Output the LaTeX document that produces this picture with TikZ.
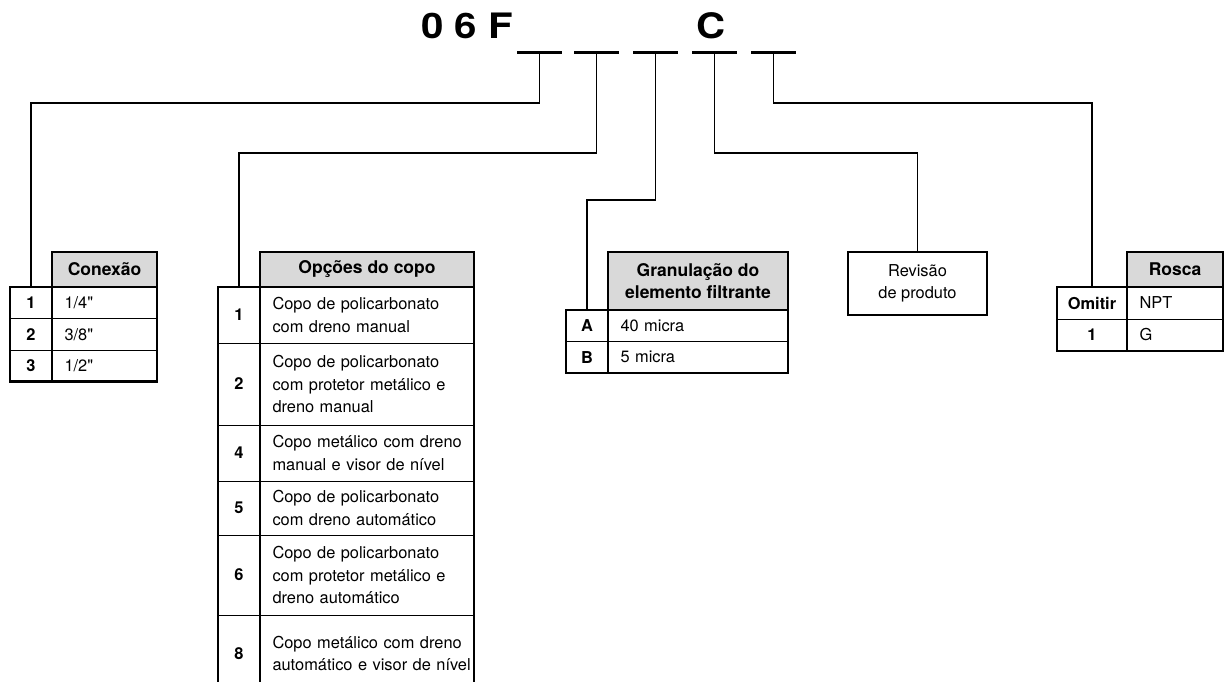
\documentclass[tikz,border=0pt]{standalone}
\usepackage{fontspec}
\setmainfont{TeX Gyre Heros}
\newfontfamily\codefamily{TeX Gyre Heros}[FakeStretch=1.15]
\usetikzlibrary{positioning,fit}
\definecolor{HeadGray}{HTML}{D9D9D9}
\newcommand\cellfont{\fontsize{16.4}{22.5}\selectfont}
\newcommand\headfont{\fontsize{17.5}{22.5}\selectfont\bfseries}
\newcommand\codefont{\fontsize{35}{40}\selectfont\codefamily\bfseries}
\newcommand\inch{\XeTeXglyph\XeTeXcharglyph"22\relax}

\begin{document}
\begin{tikzpicture}[x=1pt, y=-1pt, node distance=0pt,
  every node/.style={font=\cellfont, inner sep=0pt, outer sep=0pt},
  slot/.style={fill=black, minimum width=45pt, minimum height=3pt},
  link/.style={line width=1.1pt},
  cell/.style={draw, line width=0.9pt},
  numcell/.style={cell, minimum width=42pt, font=\cellfont\bfseries},
  valcell/.style={cell, inner xsep=12.5pt, align=left},
  headcell/.style={draw, line width=2.2pt, fill=HeadGray, font=\headfont, align=center},
  frame/.style={draw, line width=2.4pt, inner sep=0pt},
  bar/.style={line width=1.8pt}]
\useasboundingbox (0,0) rectangle (1225,681);

% order code
\node[anchor=base east, font=\codefont] (code) at (513,38) {0 6 F};
\node[anchor=base, font=\codefont] (revC) at (711,38) {C};
\foreach \i/\x in {1/539.5, 2/596.5, 3/655.5, 4/714.5, 5/773.5}
  \node[slot] (s\i) at (\x,52) {};

% connection size
\node[headcell, minimum width=105pt, minimum height=35pt] (conHead) at (104.5,269.5) {Conexão};
\node[numcell, anchor=north east, minimum height=31.5pt] (con1) at (conHead.south west) {1};
\node[valcell, right=of con1, text width=80pt, minimum height=31.5pt] (conVal1) {1/4\inch};
\node[numcell, below=of con1, minimum height=31.5pt] (con2) {2};
\node[valcell, right=of con2, text width=80pt, minimum height=31.5pt] (conVal2) {3/8\inch};
\node[numcell, below=of con2, minimum height=31.5pt] (con3) {3};
\node[valcell, right=of con3, text width=80pt, minimum height=31.5pt] (conVal3) {1/2\inch};
\node[frame, fit=(con1)(conVal3)] {};
\draw[bar] (con1.north east) -- (con3.south east);

% bowl options
\node[headcell, minimum width=214pt, minimum height=35pt] (opHead) at (367,269.5) {Opções do copo};
\node[numcell, anchor=north east, minimum height=56pt] (op1) at (opHead.south west) {1};
\node[valcell, right=of op1, text width=189pt, minimum height=56pt] (opVal1) {Copo de policarbonato\\com dreno manual};
\node[numcell, below=of op1, minimum height=82pt] (op2) {2};
\node[valcell, right=of op2, text width=189pt, minimum height=82pt] (opVal2) {Copo de policarbonato\\com protetor metálico e\\dreno manual};
\node[numcell, below=of op2, minimum height=56pt] (op4) {4};
\node[valcell, right=of op4, text width=189pt, minimum height=56pt] (opVal4) {\mbox{Copo metálico com dreno}\\manual e visor de nível};
\node[numcell, below=of op4, minimum height=54pt] (op5) {5};
\node[valcell, right=of op5, text width=189pt, minimum height=54pt] (opVal5) {Copo de policarbonato\\com dreno automático};
\node[numcell, below=of op5, minimum height=80pt] (op6) {6};
\node[valcell, right=of op6, text width=189pt, minimum height=80pt] (opVal6) {Copo de policarbonato\\com protetor metálico e\\dreno automático};
\node[numcell, below=of op6, minimum height=77pt] (op8) {8};
\node[valcell, right=of op8, text width=189pt, minimum height=77pt] (opVal8) {\mbox{Copo metálico com dreno}\\\mbox{automático e visor de nível}};
\node[frame, fit=(op1)(opVal8)] {};
\draw[bar] (op1.north east) -- (op8.south east);

% filter element
\node[headcell, minimum width=180pt, minimum height=58pt] (grHead) at (698,281) {Granulação do\\elemento filtrante};
\node[numcell, anchor=north east, minimum height=31.5pt] (gr1) at (grHead.south west) {A};
\node[valcell, right=of gr1, text width=155pt, minimum height=31.5pt] (grVal1) {40 micra};
\node[numcell, below=of gr1, minimum height=31.5pt] (gr2) {B};
\node[valcell, right=of gr2, text width=155pt, minimum height=31.5pt] (grVal2) {5 micra};
\node[frame, fit=(gr1)(grVal2)] {};
\draw[bar] (gr1.north east) -- (gr2.south east);

% product revision
\node[draw, line width=2.4pt, minimum width=139pt, minimum height=63pt, align=center] (rev) at (917.5,283.5) {Revisão\\de produto};

% thread
\node[headcell, minimum width=96pt, minimum height=35pt] (roHead) at (1175,269.5) {Rosca};
\node[numcell, anchor=north east, minimum width=70pt, minimum height=32pt] (ro1) at (roHead.south west) {Omitir};
\node[valcell, right=of ro1, text width=71pt, minimum height=32pt] (roVal1) {NPT};
\node[numcell, below=of ro1, minimum width=70pt, minimum height=32pt] (ro2) {1};
\node[valcell, right=of ro2, text width=71pt, minimum height=32pt] (roVal2) {G};
\node[frame, fit=(ro1)(roVal2)] {};
\draw[bar] (ro1.north east) -- (ro2.south east);

% leaders from the code positions
\draw[link] (s1.center) -- ++(0,51) -| (con1.north);
\draw[link] (s2.center) -- ++(0,101) -| (op1.north);
\draw[link] (s3.center) -- ++(0,148) -| (gr1.north);
\draw[link] (s4.center) -- ++(0,101) -| (rev.north);
\draw[link] (s5.center) -- ++(0,51) -| (ro1.north);
\end{tikzpicture}
\end{document}
